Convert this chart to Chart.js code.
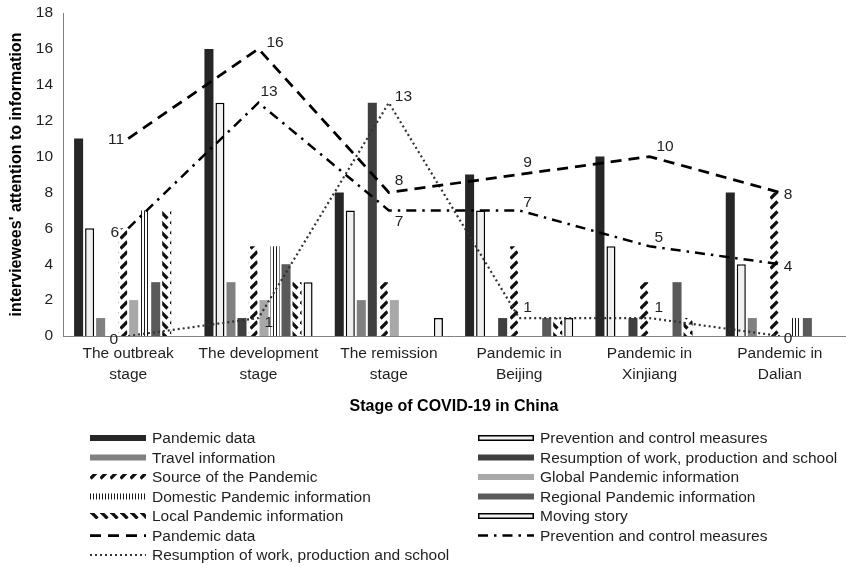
<!DOCTYPE html>
<html>
<head>
<meta charset="utf-8">
<script src="https://cdn.jsdelivr.net/npm/chart.js@4.4.1/dist/chart.umd.min.js"></script>
<style>
html,body{margin:0;padding:0;background:#fff;}
#wrap{width:846px;height:566px;position:relative;}
</style>
</head>
<body>
<div id="wrap"><canvas id="c" width="846" height="566"></canvas></div>
<script>
// ---- data ----
const categories = [
  ['The outbreak', 'stage'],
  ['The development', 'stage'],
  ['The remission', 'stage'],
  ['Pandemic in', 'Beijing'],
  ['Pandemic in', 'Xinjiang'],
  ['Pandemic in', 'Dalian']
];
const yTicks = [0, 2, 4, 6, 8, 10, 12, 14, 16, 18];

const barPandemicData   = [11, 16, 8, 9, 10, 8];
const barPrevention     = [6, 13, 7, 7, 5, 4];
const barTravel         = [1, 3, 2, 0, 0, 1];
const barResumption     = [0, 1, 13, 1, 1, 0];
const barSource         = [6, 5, 3, 5, 3, 8];
const barGlobal         = [2, 2, 2, 0, 0, 0];
const barDomestic       = [7, 5, 0, 0, 0, 1];
const barRegional       = [3, 4, 0, 1, 3, 1];
const barLocal          = [7, 3, 0, 1, 1, 0];
const barMovingStory    = [0, 3, 1, 1, 0, 0];

const linePandemicData  = [11, 16, 8, 9, 10, 8];
const linePrevention    = [6, 13, 7, 7, 5, 4];
const lineResumption    = [0, 1, 13, 1, 1, 0];

// ---- styles ----
const FONT = '"Liberation Sans", Arial, Helvetica, sans-serif';
const TEXT = '#1f1f1f';

function makePattern(kind) {
  const c = document.createElement('canvas');
  const g = c.getContext('2d');
  if (kind === 'vert') {
    c.width = 3; c.height = 1;
    g.fillStyle = '#fff'; g.fillRect(0, 0, 3, 1);
    g.fillStyle = '#1a1a1a'; g.fillRect(0, 0, 1, 1);
  } else {
    c.width = 10; c.height = 10;
    g.fillStyle = '#fff'; g.fillRect(0, 0, 10, 10);
    g.strokeStyle = '#111'; g.lineWidth = 3.2; g.lineCap = 'butt';
    g.beginPath();
    if (kind === 'up') { g.moveTo(0.5, 8.5); g.lineTo(7.5, 1.5); }
    else { g.moveTo(0.5, 1.5); g.lineTo(7.5, 8.5); }
    g.stroke();
  }
  return document.getElementById('c').getContext('2d').createPattern(c, 'repeat');
}
const patUp = makePattern('up');
const patDown = makePattern('down');
const patVert = makePattern('vert');

function bar(label, data, bg, border) {
  return {
    type: 'bar', label, data,
    backgroundColor: bg,
    borderColor: border || 'rgba(0,0,0,0)',
    borderWidth: border ? 1.5 : 0,
    categoryPercentage: 0.845, barPercentage: 0.82,
    order: 2
  };
}
function line(label, data, color, width, dash, labelPos) {
  return {
    type: 'line', label, data,
    borderColor: color, backgroundColor: color,
    borderWidth: width, borderDash: dash,
    pointRadius: 0, tension: 0, fill: false,
    order: 0, labelPos
  };
}

const datasets = [
  bar('Pandemic data', barPandemicData, '#262626'),
  bar('Prevention and control measures', barPrevention, '#f0f0f0', '#000'),
  bar('Travel information', barTravel, '#808080'),
  bar('Resumption of work, production and school', barResumption, '#3f3f3f'),
  bar('Source of the Pandemic', barSource, patUp),
  bar('Global Pandemic information', barGlobal, '#a8a8a8'),
  bar('Domestic Pandemic information', barDomestic, patVert),
  bar('Regional Pandemic information', barRegional, '#5a5a5a'),
  bar('Local Pandemic information', barLocal, patDown),
  bar('Moving story', barMovingStory, '#f4f4f4', '#000'),
  line('Pandemic data', linePandemicData, '#000', 2.75, [11, 7],
    [[-4, 1, 'right'], [8, -6, 'left'], [6, -12, 'left'], [4, -12, 'left'], [7, -10, 'left'], [4, 2, 'left']]),
  line('Prevention and control measures', linePrevention, '#000', 2.5, [10, 6, 2.5, 6],
    [[-9, 4, 'right'], [2, -11, 'left'], [6, 11, 'left'], [4, -8, 'left'], [5, -9, 'left'], [4, 2, 'left']]),
  line('Resumption of work, production and school', lineResumption, '#333', 2.2, [2, 3],
    [[-10, 4, 'right'], [6, 5, 'left'], [6, -6, 'left'], [4, -10, 'left'], [5, -10, 'left'], [4, 3, 'left']])
];

const lineLabelPlugin = {
  id: 'lineLabels',
  afterDatasetsDraw(chart) {
    const ctx = chart.ctx;
    chart.data.datasets.forEach((ds, di) => {
      if (!ds.labelPos) return;
      const meta = chart.getDatasetMeta(di);
      meta.data.forEach((pt, i) => {
        const [dx, dy, align] = ds.labelPos[i];
        ctx.save();
        ctx.font = '15.5px ' + FONT;
        ctx.fillStyle = TEXT;
        ctx.textAlign = align;
        ctx.textBaseline = 'middle';
        ctx.fillText(String(ds.data[i]), pt.x + dx, pt.y + dy);
        ctx.restore();
      });
    });
  }
};

const legendPlugin = {
  id: 'twoColLegend',
  afterDraw(chart) {
    const ctx = chart.ctx;
    const w = 56;
    chart.data.datasets.forEach((ds, i) => {
      const col = i % 2, row = Math.floor(i / 2);
      const x0 = col ? 478 : 90;
      const y = 438 + row * 19.5;
      ctx.save();
      if (ds.type === 'bar') {
        ctx.fillStyle = ds.backgroundColor;
        ctx.fillRect(x0, y - 3, w, 6);
        if (ds.borderWidth) {
          ctx.strokeStyle = ds.borderColor;
          ctx.lineWidth = 1.5;
          ctx.strokeRect(x0 + 0.75, y - 3 + 0.75, w - 1.5, 6 - 1.5);
        }
      } else {
        ctx.strokeStyle = ds.borderColor;
        ctx.lineWidth = ds.borderWidth;
        ctx.setLineDash(ds.borderDash);
        ctx.beginPath();
        ctx.moveTo(x0, y);
        ctx.lineTo(x0 + w, y);
        ctx.stroke();
      }
      ctx.setLineDash([]);
      ctx.font = '15.5px ' + FONT;
      ctx.fillStyle = TEXT;
      ctx.textAlign = 'left';
      ctx.textBaseline = 'middle';
      ctx.fillText(ds.label, x0 + w + 6, y + 1);
      ctx.restore();
    });
  }
};

new Chart(document.getElementById('c'), {
  data: { labels: categories, datasets },
  options: {
    responsive: false,
    animation: false,
    devicePixelRatio: 1,
    layout: { padding: { top: 13, right: 1, bottom: 140, left: 0 } },
    plugins: { legend: { display: false }, tooltip: { enabled: false } },
    scales: {
      x: {
        type: 'category',
        offset: true,
        grid: { display: false, drawTicks: false },
        border: { display: true, color: '#808080', width: 1 },
        ticks: { color: TEXT, font: { size: 15.5, family: FONT, lineHeight: 1.3 }, padding: 8, maxRotation: 0, autoSkip: false },
        title: { display: true, text: 'Stage of COVID-19 in China', color: '#000',
                 font: { size: 16, weight: 'bold', family: FONT }, padding: { top: 0, bottom: 10 } },
        afterFit(s) { s.height = 90; s.paddingLeft = 0; s.paddingRight = 0; }
      },
      y: {
        min: 0, max: 18,
        afterBuildTicks(s) { s.ticks = yTicks.map(v => ({ value: v })); },
        grid: { display: false, drawTicks: false },
        border: { display: true, color: '#808080', width: 1 },
        ticks: { color: TEXT, font: { size: 15.5, family: FONT }, padding: 10 },
        title: { display: true, text: "interviewees' attention to information", color: '#000',
                 font: { size: 16, weight: 'bold', family: FONT }, padding: { top: 7.4, bottom: 0 } },
        afterFit(s) { s.width = 63; s.paddingTop = 0; s.paddingBottom = 0; }
      }
    }
  },
  plugins: [lineLabelPlugin, legendPlugin]
});
</script>
</body>
</html>
